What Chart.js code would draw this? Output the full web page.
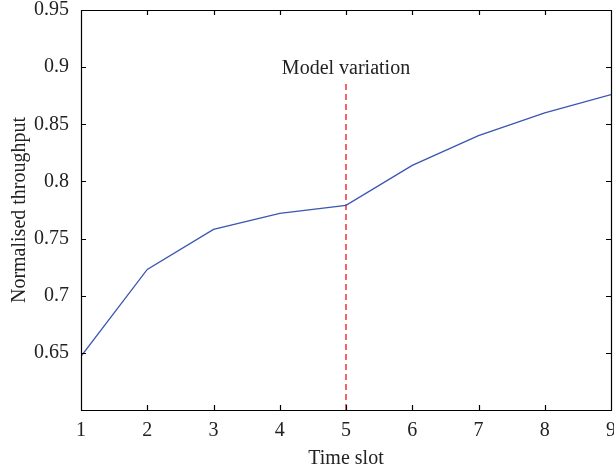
<!DOCTYPE html>
<html>
<head>
<meta charset="utf-8">
<script src="https://cdn.jsdelivr.net/npm/chart.js@4/dist/chart.umd.min.js"></script>
<style>
  html, body { margin: 0; padding: 0; background: #fff; overflow: hidden; }
  #wrap { width: 614px; height: 471px; }
</style>
</head>
<body>
<div id="wrap"><canvas id="chart"></canvas></div>
<script>
// data
var timeSlots = [1, 2, 3, 4, 5, 6, 7, 8, 9];
var throughput = [0.647, 0.723, 0.758, 0.772, 0.779, 0.814, 0.840, 0.860, 0.876];
var yTicks = [0.65, 0.7, 0.75, 0.8, 0.85, 0.9, 0.95];
var markerSlot = 5;
var markerRange = [0.6, 0.887];
var markerLabel = 'Model variation';

var FONT = '"Liberation Serif", "Times New Roman", serif';

// frame + inward tick marks on all four sides, plus the marker label
var boxTicks = {
  id: 'boxTicks',
  afterDraw: function(chart) {
    var ctx = chart.ctx, a = chart.chartArea;
    var xs = chart.scales.x, ys = chart.scales.y;
    ctx.save();
    ctx.setLineDash([]);
    ctx.globalAlpha = 1;
    ctx.strokeStyle = '#000000';
    ctx.lineWidth = 1.2;
    ctx.beginPath();
    ctx.rect(Math.round(a.left) + 0.5, Math.round(a.top) + 0.5,
             Math.round(a.right - a.left), Math.round(a.bottom - a.top));
    xs.ticks.forEach(function(t) {
      var px = Math.round(xs.getPixelForValue(t.value)) + 0.5;
      ctx.moveTo(px, a.bottom); ctx.lineTo(px, a.bottom - 5);
      ctx.moveTo(px, a.top); ctx.lineTo(px, a.top + 5);
    });
    ys.ticks.forEach(function(t) {
      var py = Math.round(ys.getPixelForValue(t.value)) + 0.5;
      ctx.moveTo(a.left, py); ctx.lineTo(a.left + 5, py);
      ctx.moveTo(a.right, py); ctx.lineTo(a.right - 5, py);
    });
    ctx.stroke();

    ctx.fillStyle = '#222';
    ctx.font = '20px ' + FONT;
    ctx.textAlign = 'center';
    ctx.textBaseline = 'alphabetic';
    ctx.fillText(markerLabel, xs.getPixelForValue(markerSlot),
                 ys.getPixelForValue(markerRange[1]) - 8);
    ctx.restore();
  }
};

new Chart(document.getElementById('chart'), {
  type: 'line',
  data: {
    datasets: [{
      data: timeSlots.map(function(t, i) { return { x: t, y: throughput[i] }; }),
      borderColor: '#3a56b0',
      borderWidth: 1.3,
      pointRadius: 0,
      tension: 0,
      fill: false
    }, {
      data: markerRange.map(function(v) { return { x: markerSlot, y: v }; }),
      borderColor: '#ee3340',
      borderWidth: 1.5,
      borderDash: [6, 4],
      pointRadius: 0,
      fill: false
    }]
  },
  options: {
    responsive: true,
    maintainAspectRatio: false,
    animation: false,
    layout: { padding: { top: 10, right: 3, bottom: 0, left: 0 } },
    plugins: { legend: { display: false }, tooltip: { enabled: false } },
    scales: {
      x: {
        type: 'linear',
        min: 1, max: 9,
        grid: { display: false },
        border: { display: false },
        ticks: { stepSize: 1, color: '#222', font: { family: FONT, size: 20 }, padding: 1 },
        title: { display: true, text: 'Time slot', color: '#222', font: { family: FONT, size: 20 }, padding: { top: 4, bottom: 0 } },
        afterFit: function(s) { s.height = 61; s.paddingLeft = 0; s.paddingRight = 0; }
      },
      y: {
        min: 0.6, max: 0.95,
        grid: { display: false },
        border: { display: false },
        afterBuildTicks: function(s) { s.ticks = yTicks.map(function(v) { return { value: v }; }); },
        ticks: {
          color: '#222',
          font: { family: FONT, size: 20 },
          padding: 4,
          callback: function(v) { return String(Number(v.toFixed(2))); }
        },
        title: { display: true, text: 'Normalised throughput', color: '#222', font: { family: FONT, size: 20 }, padding: { top: 8, bottom: 2 } },
        afterFit: function(s) { s.width = 81; s.paddingTop = 0; s.paddingBottom = 0; }
      }
    }
  },
  plugins: [boxTicks]
});
</script>
</body>
</html>
